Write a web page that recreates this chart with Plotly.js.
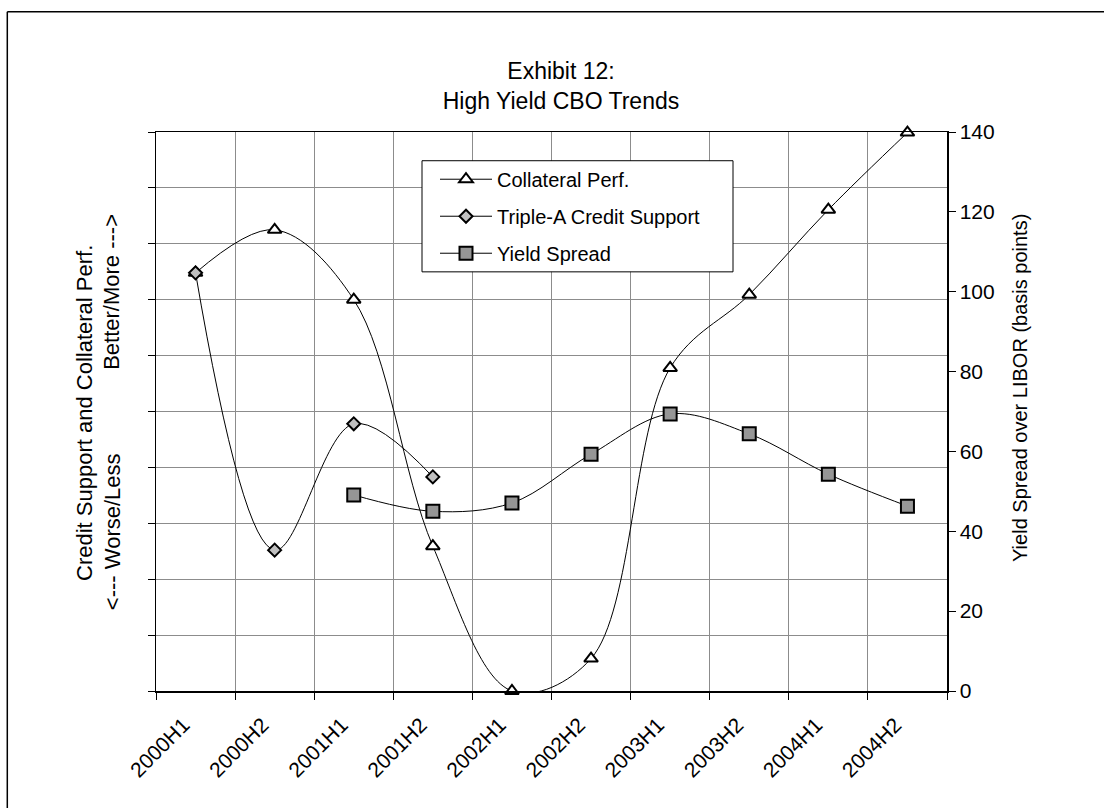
<!DOCTYPE html>
<html>
<head>
<meta charset="utf-8">
<script src="https://cdn.plot.ly/plotly-3.0.1.min.js"></script>
<style>
  html, body { margin: 0; padding: 0; background: #ffffff; }
  #chart { width: 1104px; height: 808px; }
</style>
</head>
<body>
<div id="chart"></div>
<script>
// Half-year periods on the category axis
const periods = ['2000H1', '2000H2', '2001H1', '2001H2', '2002H1',
                 '2002H2', '2003H1', '2003H2', '2004H1', '2004H2'];

// Relative index values (left axis, 0-10 unlabeled scale)
const collateralPerf = [7.48, 8.25, 7.00, 2.59, 0.00, 0.58, 5.78, 7.09, 8.61, 9.99];
const tripleAPeriods = ['2000H1', '2000H2', '2001H1', '2001H2'];
const tripleACreditSupport = [7.48, 2.52, 4.78, 3.83];

// Yield spread over LIBOR in basis points (right axis)
const spreadPeriods = ['2001H1', '2001H2', '2002H1', '2002H2', '2003H1',
                       '2003H2', '2004H1', '2004H2'];
const yieldSpread = [49.1, 45.0, 47.1, 59.3, 69.4, 64.4, 54.3, 46.3];

const rightTicks = [0, 20, 40, 60, 80, 100, 120, 140];

const FONT = '"Liberation Sans", Arial, Helvetica, sans-serif';

// plot area in pixels, used to turn frame positions into paper units
const PL = 156, PR = 947, PT = 132.3, PB = 690.7;
const px = v => (v - PL) / (PR - PL);
const py = v => (PB - v) / (PB - PT);

const lineStyle = { color: '#000000', width: 1, shape: 'spline', smoothing: 1 };

const traces = [
  {
    name: 'Collateral Perf.',
    x: periods, y: collateralPerf,
    type: 'scatter', mode: 'lines+markers',
    line: lineStyle,
    marker: { symbol: 'triangle-up', size: 12, color: '#ffffff',
              line: { color: '#000000', width: 2 } },
    cliponaxis: false, legendgroup: 'a', xaxis: 'x', yaxis: 'y'
  },
  {
    name: 'Triple-A Credit Support',
    x: tripleAPeriods, y: tripleACreditSupport,
    type: 'scatter', mode: 'lines+markers',
    line: lineStyle,
    marker: { symbol: 'diamond', size: 10, color: '#c0c0c0',
              line: { color: '#000000', width: 2 } },
    cliponaxis: false, legendgroup: 'b', xaxis: 'x', yaxis: 'y'
  },
  {
    name: 'Yield Spread',
    x: spreadPeriods, y: yieldSpread,
    type: 'scatter', mode: 'lines+markers',
    line: lineStyle,
    marker: { symbol: 'square', size: 13, color: '#969696',
              line: { color: '#000000', width: 2 } },
    cliponaxis: false, legendgroup: 'c', xaxis: 'x', yaxis: 'y2'
  }
];

const layout = {
  width: 1104, height: 808,
  margin: { l: PL, r: 1104 - PR, t: PT, b: 808 - PB, pad: 0 },
  paper_bgcolor: '#ffffff', plot_bgcolor: '#ffffff',
  font: { family: FONT, color: '#000000', size: 20 },
  title: {
    text: 'Exhibit 12:<br>High Yield CBO Trends',
    font: { family: FONT, size: 23, color: '#000000' },
    x: 561 / 1104, xanchor: 'center',
    y: 1 - 79 / 808, yanchor: 'middle',
    xref: 'container', yref: 'container'
  },
  showlegend: true,
  legend: {
    x: px(435), xanchor: 'left',
    y: py(160), yanchor: 'top',
    bgcolor: 'rgba(0,0,0,0)', borderwidth: 0,
    font: { family: FONT, size: 20, color: '#000000' },
    tracegroupgap: 8, traceorder: 'grouped', itemwidth: 52
  },
  xaxis: {
    type: 'category', categoryorder: 'array', categoryarray: periods,
    range: [-0.5, 9.5],
    tickson: 'boundaries', ticks: 'outside', ticklen: 7, tickcolor: '#000000',
    showgrid: true, gridcolor: '#8c8c8c', gridwidth: 1,
    showline: true, linecolor: '#000000', linewidth: 1.5, mirror: true,
    tickangle: -45, ticklabelstandoff: 12, ticklabelshift: -12,
    tickfont: { family: FONT, size: 21, color: '#000000' },
    zeroline: false, fixedrange: true
  },
  yaxis: {
    range: [0, 10], dtick: 1, tick0: 0,
    showticklabels: false, ticks: 'outside', ticklen: 7, tickcolor: '#000000',
    showgrid: true, gridcolor: '#8c8c8c', gridwidth: 1,
    showline: true, linecolor: '#000000', linewidth: 1.5,
    zeroline: false, fixedrange: true
  },
  yaxis2: {
    overlaying: 'y', side: 'right', anchor: 'x',
    range: [0, 140], tickvals: rightTicks, ticktext: rightTicks.map(String),
    ticks: 'outside', ticklen: 7, tickcolor: '#000000',
    showgrid: false, showline: true, linecolor: '#000000', linewidth: 1.5,
    tickfont: { family: FONT, size: 21, color: '#000000' },
    zeroline: false, fixedrange: true
  },
  shapes: [
    // chart frame (top and left edges)
    { type: 'line', xref: 'paper', yref: 'paper', x0: px(7.3), x1: px(1110), y0: py(12.3), y1: py(12.3),
      line: { color: '#000000', width: 1.5 }, layer: 'above' },
    { type: 'line', xref: 'paper', yref: 'paper', x0: px(7.3), x1: px(7.3), y0: py(12.3), y1: py(815),
      line: { color: '#000000', width: 1.5 }, layer: 'above' },
    // legend box
    { type: 'rect', xref: 'paper', yref: 'paper', x0: px(422), x1: px(733), y0: py(161), y1: py(272),
      fillcolor: '#ffffff', line: { color: '#000000', width: 1 }, layer: 'above' }
  ],
  annotations: [
    { text: 'Credit Support and Collateral Perf.', textangle: -90,
      xref: 'paper', yref: 'paper', x: px(84), y: py(413), xanchor: 'center', yanchor: 'middle',
      showarrow: false, font: { family: FONT, size: 22, color: '#000000' } },
    { text: 'Better/More ---&gt;', textangle: -90,
      xref: 'paper', yref: 'paper', x: px(112), y: py(292), xanchor: 'center', yanchor: 'middle',
      showarrow: false, font: { family: FONT, size: 22, color: '#000000' } },
    { text: '&lt;--- Worse/Less', textangle: -90,
      xref: 'paper', yref: 'paper', x: px(112), y: py(532), xanchor: 'center', yanchor: 'middle',
      showarrow: false, font: { family: FONT, size: 22, color: '#000000' } },
    { text: 'Yield Spread over LIBOR (basis points)', textangle: -90,
      xref: 'paper', yref: 'paper', x: px(1020), y: py(388), xanchor: 'center', yanchor: 'middle',
      showarrow: false, font: { family: FONT, size: 20, color: '#000000' } }
  ]
};

Plotly.newPlot('chart', traces, layout, { displayModeBar: false, staticPlot: true });
</script>
</body>
</html>
